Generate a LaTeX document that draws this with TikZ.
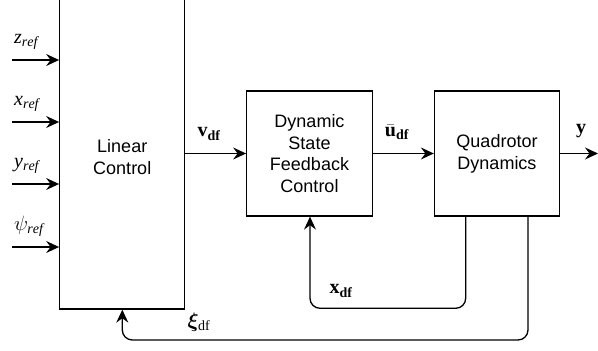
\documentclass[tikz,border=0pt]{standalone}
\usepackage{fontspec}
\usepackage{bm}
\setmainfont{Liberation Sans}
\setmathrm{Liberation Serif}
\setboldmathrm{Liberation Serif}
\usetikzlibrary{arrows.meta}
\tikzset{
  blk/.style={draw, line width=1.3pt, inner sep=0pt, align=center,
    font=\fontsize{18}{21.7}\selectfont},
  blktext/.style={inner sep=0pt, align=center, font=\fontsize{18}{21.7}\selectfont},
  sig/.style={line width=1.3pt, -{Stealth[length=13pt,width=12pt,inset=4.5pt]}},
  fb/.style={sig, rounded corners=10pt},
  lbl/.style={font=\fontsize{20}{22}\selectfont, inner sep=0pt}
}
\begin{document}
\begin{tikzpicture}[x=1pt,y=-1pt]
\clip (0,0) rectangle (598,351);
\useasboundingbox (0,0) rectangle (598,351);
% blocks
\node[blk, minimum width=125pt, minimum height=320pt] (lin) at (122.25,149) {};
\node[blktext] (lintext) at (122.25,157) {Linear\\Control};
\node[blk, minimum width=125.5pt, minimum height=125pt] (dsf) at (309.5,153.5) {Dynamic\\State\\Feedback\\Control};
\node[blk, minimum width=125pt, minimum height=125pt] (qd) at (497,153.5) {Quadrotor\\Dynamics};
% reference inputs
\foreach \yy/\nm/\lab in {60/z/\mathit{z}_{\mathit{ref}}, 122/x/\mathit{x}_{\mathit{ref}}, 184/y/\mathit{y}_{\mathit{ref}}, 247/p/\psi_{\mathit{ref}}} {
  \coordinate (in\nm) at (12,\yy);
  \draw[sig] (in\nm) -- (lin.west |- in\nm);
  \node[lbl, anchor=south west] (l\nm) at (14,\yy-10) {$\lab$};
}
% forward path
\draw[sig] (lin.east |- dsf.west) -- (dsf.west);
\node[lbl] (lv) at (209,134) {$\mathbf{v}_{\mathbf{df}}$};
\draw[sig] (dsf.east) -- (qd.west);
\node[lbl] (lu) at (397,132) {$\bar{\mathbf{u}}_{\mathbf{df}}$};
\coordinate (out) at (598,153.5);
\draw[sig] (qd.east) -- (out);
\node[lbl] (ly) at (581,131) {$\mathbf{y}$};
% feedback paths
\coordinate (qa) at (465.7,215.5);
\coordinate (qb) at (528,215.5);
\draw[fb] (qa) -- (465.7,308.3) -- (310,308.3) -- (dsf.south -| 310,0);
\node[lbl] (lx) at (341,291) {$\mathbf{x}_{\mathbf{df}}$};
\draw[fb] (qb) -- (528,340) -- (122.3,340) -- (lin.south -| 122.3,0);
\node[lbl] (lxi) at (199,322) {$\bm{\xi}_{\mathrm{df}}$};
\end{tikzpicture}
\end{document}
